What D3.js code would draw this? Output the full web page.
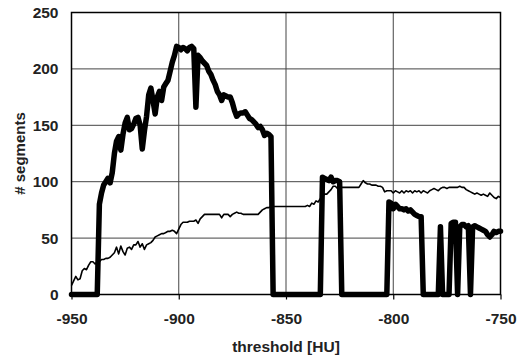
<!DOCTYPE html>
<html>
<head>
<meta charset="utf-8">
<script src="https://cdn.jsdelivr.net/npm/d3@7"></script>
<style>
  body { margin: 0; background: #fff; }
  svg { display: block; }
  .tick text, .title { font-family: "Liberation Sans", Arial, sans-serif; font-weight: bold; fill: #222; }
</style>
</head>
<body>
<svg></svg>
<script>
const w = 517;
const h = 360;
const plotL = 71.5, plotR = 500.5, plotT = 12.5, plotB = 294.5;

// threshold [HU], one per step
const thresholds = [
  -950,-949,-948,-947,-946,-945,-944,-943,-942,-941,
  -940,-939,-938,-937,-936,-935,-934,-933,-932,-931,
  -930,-929,-928,-927,-926,-925,-924,-923,-922,-921,
  -920,-919,-918,-917,-916,-915,-914,-913,-912,-911,
  -910,-909,-908,-907,-906,-905,-904,-903,-902,-901,
  -900,-899,-898,-897,-896,-895,-894,-893,-892,-891,
  -890,-889,-888,-887,-886,-885,-884,-883,-882,-881,
  -880,-879,-878,-877,-876,-875,-874,-873,-872,-871,
  -870,-869,-868,-867,-866,-865,-864,-863,-862,-861,
  -860,-859,-858,-857,-856,-855,-854,-853,-852,-851,
  -850,-849,-848,-847,-846,-845,-844,-843,-842,-841,
  -840,-839,-838,-837,-836,-835,-834,-833,-832,-831,
  -830,-829,-828,-827,-826,-825,-824,-823,-822,-821,
  -820,-819,-818,-817,-816,-815,-814,-813,-812,-811,
  -810,-809,-808,-807,-806,-805,-804,-803,-802,-801,
  -800,-799,-798,-797,-796,-795,-794,-793,-792,-791,
  -790,-789,-788,-787,-786,-785,-784,-783,-782,-781,
  -780,-779,-778,-777,-776,-775,-774,-773,-772,-771,
  -770,-769,-768,-767,-766,-765,-764,-763,-762,-761,
  -760,-759,-758,-757,-756,-755,-754,-753,-752,-751,
  -750
];

// thick series
const segmentsA = [
  0,0,0,0,0,0,0,0,0,0,
  0,0,0,80,90,97,100,103,99,108,
  125,136,140,128,142,152,157,146,147,151,
  156,157,150,129,145,158,177,183,172,160,
  175,180,172,184,187,190,198,206,212,220,
  219,217,219,218,216,219,220,218,166,212,
  210,207,205,203,198,195,190,186,180,177,
  172,177,176,175,175,170,163,158,160,161,
  161,162,159,156,155,153,151,148,149,146,
  141,143,142,140,0,0,0,0,0,0,
  0,0,0,0,0,0,0,0,0,0,
  0,0,0,0,0,0,0,104,103,102,
  101,104,100,101,101,100,0,0,0,0,
  0,0,0,0,0,0,0,0,0,0,
  0,0,0,0,0,0,0,0,82,81,
  76,80,78,76,76,75,76,74,75,73,
  71,70,69,69,0,0,0,0,0,0,
  0,0,60,0,0,0,0,63,64,64,
  0,60,62,62,60,61,0,60,61,60,
  59,58,57,56,53,51,53,56,55,56,
  56
];

// thin series
const segmentsB = [
  8,12,16,13,14,21,23,22,26,29,
  29,27,29,29,31,31,32,32,33,35,
  37,42,36,43,38,35,41,42,40,44,
  44,47,42,45,40,44,45,46,48,51,
  52,53,54,54,55,56,56,57,56,54,
  58,62,64,64,64,65,65,65,66,63,
  67,69,71,71,71,71,71,71,71,71,
  68,71,71,71,69,71,72,73,72,72,
  71,71,71,71,71,71,71,71,73,75,
  76,77,77,78,78,78,78,78,78,78,
  78,78,78,78,78,78,78,78,78,78,
  79,78,81,80,83,82,85,87,89,89,
  91,93,96,96,94,95,95,95,95,95,
  95,95,95,95,95,98,101,99,98,98,
  97,97,97,96,96,95,91,92,92,92,
  90,92,91,90,92,90,92,91,92,90,
  92,91,92,90,92,91,90,92,93,94,
  93,92,94,95,95,94,95,95,95,95,
  95,96,95,95,93,92,91,90,89,90,
  89,88,89,88,87,90,88,86,85,87,
  86
];

const xTicks = [-950, -900, -850, -800, -750];
const yTicks = [0, 50, 100, 150, 200, 250];

const svg = d3.select("svg").attr("width", w).attr("height", h);

const x = d3.scaleLinear().domain([-950, -750]).range([plotL, plotR]);
const y = d3.scaleLinear().domain([0, 250]).range([plotB, plotT]);

/** grid */
svg.append("g")
  .selectAll("line")
  .data(yTicks.slice(1, -1))
  .join("line")
  .attr("x1", plotL).attr("x2", plotR)
  .attr("y1", (d) => y(d)).attr("y2", (d) => y(d))
  .attr("stroke", "#444").attr("stroke-width", 1);

svg.append("g")
  .selectAll("line")
  .data(xTicks.slice(1, -1))
  .join("line")
  .attr("x1", (d) => x(d)).attr("x2", (d) => x(d))
  .attr("y1", plotT).attr("y2", plotB)
  .attr("stroke", "#444").attr("stroke-width", 1);

/** axes - plain hyphen for negatives, like the original */
const xAxis = svg.append("g")
  .attr("transform", `translate(0,${plotB})`)
  .call(d3.axisBottom(x).tickValues(xTicks).tickSize(5).tickPadding(13).tickFormat((d) => String(d)));
xAxis.select(".domain").remove();
xAxis.selectAll(".tick line").attr("stroke", "#000").attr("stroke-width", 1.2);
xAxis.selectAll("text").style("font-size", "15.5px");

const yAxis = svg.append("g")
  .attr("transform", `translate(${plotL},0)`)
  .call(d3.axisLeft(y).tickValues(yTicks).tickSize(0).tickPadding(13).tickFormat((d) => String(d)));
yAxis.select(".domain").remove();
yAxis.selectAll("text").style("font-size", "15.5px");

/** lines */
const line = (vals) => d3.line()
  .x((d, i) => x(thresholds[i]))
  .y((d) => y(d))(vals);

svg.append("path")
  .attr("d", line(segmentsB))
  .attr("fill", "none")
  .attr("stroke", "#000")
  .attr("stroke-width", 1.6)
  .attr("stroke-linejoin", "round");

svg.append("path")
  .attr("d", line(segmentsA))
  .attr("fill", "none")
  .attr("stroke", "#000")
  .attr("stroke-width", 5.5)
  .attr("stroke-linejoin", "round")
  .attr("stroke-linecap", "round");

/** frame */
svg.append("rect")
  .attr("x", plotL).attr("y", plotT)
  .attr("width", plotR - plotL).attr("height", plotB - plotT)
  .attr("fill", "none").attr("stroke", "#000").attr("stroke-width", 1.5);

/** titles */
svg.append("text")
  .attr("class", "title")
  .attr("x", (plotL + plotR) / 2)
  .attr("y", 352)
  .attr("text-anchor", "middle")
  .style("font-size", "15.5px")
  .text("threshold [HU]");

svg.append("text")
  .attr("class", "title")
  .attr("transform", `translate(25,${(plotT + plotB) / 2}) rotate(-90)`)
  .attr("text-anchor", "middle")
  .style("font-size", "15px")
  .text("# segments");
</script>
</body>
</html>
